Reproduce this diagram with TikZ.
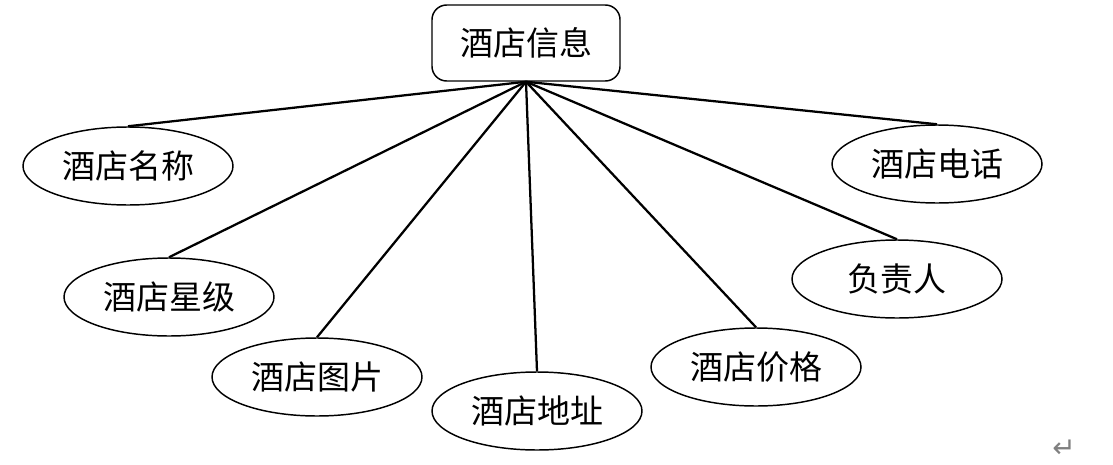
\documentclass[tikz,border=0pt]{standalone}
\usepackage{fontspec}
\setmainfont{Noto Sans CJK SC}
\newfontfamily\symfont{DejaVu Sans}
\usetikzlibrary{shapes.geometric}

\begin{document}
\begin{tikzpicture}[x=0.75pt,y=-0.75pt,
    attr/.style={ellipse,draw,line width=1.1pt,minimum width=157.5pt,minimum height=58.5pt,inner sep=0pt,font=\fontsize{24.75pt}{30pt}\selectfont},
    entity/.style={rectangle,rounded corners=11pt,draw,line width=1.1pt,minimum width=141pt,minimum height=57pt,inner sep=0pt,font=\fontsize{24.75pt}{30pt}\selectfont},
    link/.style={line width=1.7pt}]
\useasboundingbox (0,0) rectangle (1113,464);

\node[entity] (info) at (526,43) {酒店信息};

\node[attr] (name)  at (128,166) {酒店名称};
\node[attr] (star)  at (169,297) {酒店星级};
\node[attr] (pic)   at (317,377) {酒店图片};
\node[attr] (addr)  at (537,411) {酒店地址};
\node[attr] (price) at (756,367) {酒店价格};
\node[attr] (boss)  at (897,279) {负责人};
\node[attr] (tel)   at (937,164) {酒店电话};

\foreach \n in {name,star,pic,addr,price,boss,tel}{
    \draw[link] (info.south) -- (\n.north);
}

\node[text=gray,font=\symfont\fontsize{21pt}{24pt}\selectfont] (ret) at (1064,449) {↵};
\end{tikzpicture}
\end{document}
